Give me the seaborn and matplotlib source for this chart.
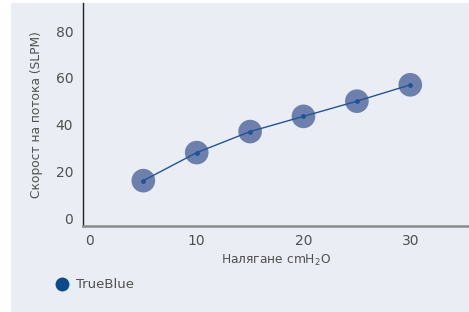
import pandas as pd
import seaborn as sns
import matplotlib.pyplot as plt
from matplotlib.patches import Rectangle

pressure = [5, 10, 15, 20, 25, 30]
flow = [16, 28, 37, 43.5, 50, 57]
series = "TrueBlue"
x_ticks = [0, 10, 20, 30]
y_ticks = [0, 20, 40, 60, 80]

panel = "#eaedf4"
text_col = "#505050"

df = pd.DataFrame({"pressure": pressure, "flow": flow})

sns.set_theme(style="white")
plt.rcParams['font.family'] = ['DejaVu Sans']

fig = plt.figure(figsize=(4.69, 3.12), dpi=100)
fig.patch.set_facecolor("white")
fig.patches.append(Rectangle((11 / 469, 0), 458 / 469, 309 / 312,
                             transform=fig.transFigure, facecolor=panel,
                             edgecolor="none", zorder=-10))

ax = fig.add_axes([83 / 469, 86 / 312, (469 - 83) / 469, (309 - 86) / 312])
ax.set_facecolor(panel)

# big translucent circles
sns.scatterplot(data=df, x="pressure", y="flow", ax=ax, s=290,
                color="#6d80ad", edgecolor="none", zorder=2, legend=False)
# thin line with small dots
sns.lineplot(data=df, x="pressure", y="flow", ax=ax, color="#1f5595",
             linewidth=1.0, marker="o", markersize=3.5,
             markeredgecolor="none", zorder=3)

ax.set_xlim(-0.65, 35.5)
ax.set_ylim(-3.4, 92)
ax.set_xticks(x_ticks)
ax.set_yticks(y_ticks)
ax.tick_params(axis="both", length=0, labelsize=10, colors=text_col)
ax.tick_params(axis="x", pad=6)
ax.tick_params(axis="y", pad=7)

for s in ["top", "right"]:
    ax.spines[s].set_visible(False)
ax.spines["left"].set_color("#222222")
ax.spines["left"].set_linewidth(1.0)
ax.spines["bottom"].set_color("#8a8a8a")
ax.spines["bottom"].set_linewidth(1.8)

ax.set_xlabel("Налягане cmH$_2$O", fontsize=8.8, color=text_col, labelpad=3)
ax.set_ylabel("Скорост на потока (SLPM)", fontsize=8.8, color=text_col,
              labelpad=9)

# legend
h = plt.Line2D([], [], marker="o", linestyle="none", markersize=10,
               markerfacecolor="#0b4a88", markeredgecolor="none")
fig.legend([h], [series], loc="center left",
           bbox_to_anchor=(42 / 469, 1 - 285 / 312), frameon=False,
           fontsize=9.5, labelcolor=text_col, handletextpad=0.45,
           handlelength=1.2)

fig.savefig("out.png", dpi=100)
